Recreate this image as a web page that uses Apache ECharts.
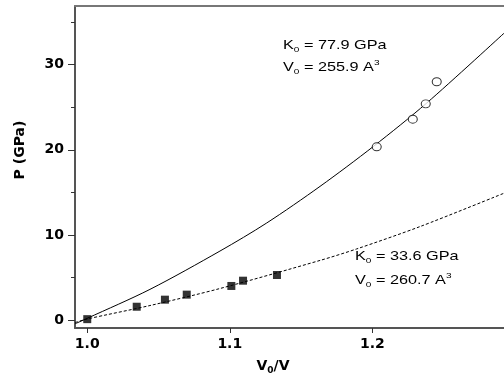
<!DOCTYPE html>
<html>
<head>
<meta charset="utf-8">
<script src="https://cdn.jsdelivr.net/npm/echarts@6/dist/echarts.min.js"></script>
<style>html,body{margin:0;padding:0;background:#fff}#c{width:504px;height:380px}</style>
</head>
<body>
<div id="c"></div>
<script>
// ---- data ----
const xTicks = [1.0, 1.1, 1.2];
const yTicks = [0, 10, 20, 30];
const yMinorTicks = [5, 15, 25, 35];

const squaresX = [1.0, 1.0347, 1.0545, 1.0698, 1.1011, 1.1093, 1.1331];
const squaresP = [0.1, 1.56, 2.39, 2.98, 4.0, 4.62, 5.29];

const circlesX = [1.2031, 1.2284, 1.2375, 1.2452];
const circlesP = [20.35, 23.6, 25.4, 28.0];

const fitSolidX = [0.9914, 1.0, 1.044, 1.0931, 1.1259, 1.1633, 1.2007, 1.2382, 1.2924];
const fitSolidP = [-0.45, 0.2, 3.6, 8.1, 11.4, 15.7, 20.39, 25.5, 33.7];

const fitDashX = [0.9914, 1.0, 1.044, 1.0931, 1.1633, 1.189, 1.2335, 1.2924];
const fitDashP = [-0.3, 0.12, 1.7, 3.7, 7.0, 8.35, 10.98, 14.9];

const xMin = 0.9914, xMax = 1.2924;
const yMin = -0.94, yMax = 36.9;

const zip = (a, b) => a.map((v, i) => [v, b[i]]);

const chart = echarts.init(document.getElementById('c'), null, {renderer: 'canvas'});

const axisColor = '#555';
const labelStyle = {fontFamily: 'DejaVu Sans', fontWeight: 'bold', fontSize: 14, color: '#000'};
const annRich = {
  n: {fontFamily: 'Liberation Sans', fontSize: 13, fill: '#000', color: '#000', lineHeight: 16},
  s: {fontFamily: 'Liberation Sans', fontSize: 8, fill: '#000', color: '#000', padding: [10, 0, 0, 0]},
  p: {fontFamily: 'Liberation Sans', fontSize: 8, fill: '#000', color: '#000', padding: [0, 0, 9, 0]}
};
function ann(x, y, text) {
  return {type: 'text', x: x, y: y, scaleX: 1.25, z: 10,
    style: {text: text, rich: annRich, align: 'left', verticalAlign: 'middle', fill: '#000'}};
}

chart.setOption({
  animation: false,
  backgroundColor: '#fff',
  grid: {left: 75, right: 0, top: 6, bottom: 52},
  xAxis: [{
    type: 'value', min: xMin, max: xMax, position: 'bottom',
    axisLine: {show: true, onZero: false, lineStyle: {color: axisColor, width: 2}},
    axisTick: {show: true, inside: false, length: 5, customValues: xTicks, lineStyle: {color: '#333', width: 1}},
    axisLabel: Object.assign({customValues: xTicks, margin: 9, formatter: v => v.toFixed(1)}, labelStyle),
    splitLine: {show: false}
  }, {
    type: 'value', min: xMin, max: xMax, position: 'top',
    axisLine: {show: true, onZero: false, lineStyle: {color: '#777', width: 2}},
    axisTick: {show: false}, axisLabel: {show: false}, splitLine: {show: false}
  }],
  yAxis: [{
    type: 'value', min: yMin, max: yMax, position: 'left',
    axisLine: {show: true, onZero: false, lineStyle: {color: axisColor, width: 2}},
    axisTick: {show: true, inside: false, length: 7, customValues: yTicks, lineStyle: {color: '#333', width: 1}},
    axisLabel: Object.assign({customValues: yTicks, margin: 11}, labelStyle),
    splitLine: {show: false}
  }, {
    type: 'value', min: yMin, max: yMax, position: 'left', offset: 0,
    axisLine: {show: false, onZero: false},
    axisTick: {show: true, inside: false, length: 4, customValues: yMinorTicks, lineStyle: {color: '#333', width: 1}},
    axisLabel: {show: false}, splitLine: {show: false}
  }],
  series: [{
    type: 'line', data: zip(fitSolidX, fitSolidP), showSymbol: false, symbol: 'none',
    smooth: 0.3, lineStyle: {color: '#000', width: 1}, z: 2
  }, {
    type: 'line', data: zip(fitDashX, fitDashP), showSymbol: false, symbol: 'none',
    smooth: 0.3, lineStyle: {color: '#000', width: 1, type: [3, 2]}, z: 2
  }, {
    type: 'scatter', data: zip(squaresX, squaresP), symbol: 'rect', symbolSize: 8,
    itemStyle: {color: '#000'}, z: 3
  }, {
    type: 'scatter', data: zip(circlesX, circlesP), symbol: 'circle', symbolSize: [9, 8],
    itemStyle: {color: '#fff', borderColor: '#000', borderWidth: 1}, z: 3
  }],
  graphic: [
    ann(283, 45, '{n|K}{s|0}{n| = 77.9 GPa}'),
    ann(283, 67, '{n|V}{s|0}{n| = 255.9 A}{p|3}'),
    ann(355, 256, '{n|K}{s|0}{n| = 33.6 GPa}'),
    ann(355, 280, '{n|V}{s|0}{n| = 260.7 A}{p|3}'),
    {type: 'text', x: 20, y: 150, rotation: Math.PI / 2, z: 10,
      style: {text: 'P (GPa)', fontFamily: 'DejaVu Sans', fontWeight: 'bold', fontSize: 14, fill: '#000', align: 'center', verticalAlign: 'middle'}},
    {type: 'text', x: 273, y: 366, z: 10,
      style: {text: '{b|V}{bs|0}{b|/V}', align: 'center', verticalAlign: 'middle', fill: '#000',
        rich: {
          b: {fontFamily: 'DejaVu Sans', fontWeight: 'bold', fontSize: 14, fill: '#000', color: '#000', lineHeight: 16},
          bs: {fontFamily: 'DejaVu Sans', fontWeight: 'bold', fontSize: 9, fill: '#000', color: '#000', padding: [10, 0, 0, 0]}
        }}}
  ]
});
</script>
</body>
</html>
